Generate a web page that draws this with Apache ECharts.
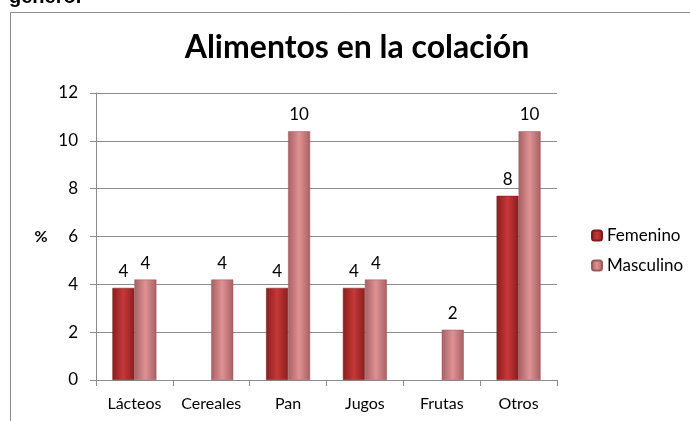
<!DOCTYPE html>
<html>
<head>
<meta charset="utf-8">
<script src="https://cdn.jsdelivr.net/npm/echarts@6/dist/echarts.min.js"></script>
<style>
  html, body { margin: 0; padding: 0; background: #fff; }
  #chart { width: 690px; height: 421px; }
</style>
</head>
<body>
<div id="chart"></div>
<script>
// datos
var categorias = ['Lácteos', 'Cereales', 'Pan', 'Jugos', 'Frutas', 'Otros'];
var femenino = [3.85, 0, 3.85, 3.85, 0, 7.7];
var masculino = [4.2, 4.2, 10.4, 4.2, 2.1, 10.4];
var ticksY = [0, 2, 4, 6, 8, 10, 12];

var fuente = 'Lato, "Open Sans", sans-serif';

function barra(c1, c2) {
    return new echarts.graphic.LinearGradient(0, 0, 1, 0, [
        { offset: 0, color: c1 },
        { offset: 0.5, color: c2 },
        { offset: 1, color: c1 }
    ]);
}

function etiqueta(p) {
    return p.value ? String(Math.round(p.value)) : '';
}

// los ceros no se dibujan
function sinCeros(arr) {
    return arr.map(function (v) { return v === 0 ? '-' : v; });
}

var myChart = echarts.init(document.getElementById('chart'));

var option = {
    backgroundColor: '#fff',
    animation: false,
    title: {
        text: 'Alimentos en la colación',
        left: 352,
        textAlign: 'center',
        top: 27,
        textStyle: { fontFamily: fuente, fontSize: 32, fontWeight: 'bold', color: '#000' }
    },
    graphic: [
        {
            type: 'rect',
            shape: { x: 10.5, y: 12.5, width: 700, height: 430 },
            style: { fill: 'none', stroke: '#8c8c8c', lineWidth: 1 },
            silent: true
        },
        {
            type: 'text',
            x: 9,
            y: 7,
            style: {
                text: 'género.',
                font: 'bold 20px "Liberation Sans", Arial, sans-serif',
                fill: '#000',
                verticalAlign: 'bottom'
            },
            silent: true
        }
    ],
    legend: {
        orient: 'vertical',
        left: 586,
        top: 222,
        itemWidth: 10,
        itemHeight: 10,
        itemGap: 13,
        textStyle: { fontFamily: fuente, fontSize: 17, color: '#000' },
        data: ['Femenino', 'Masculino']
    },
    grid: { left: 96, right: 133, top: 93, bottom: 41, containLabel: false },
    xAxis: {
        type: 'category',
        data: categorias,
        axisLine: { lineStyle: { color: '#8c8c8c' } },
        axisTick: { show: true, length: 6, lineStyle: { color: '#8c8c8c' } },
        axisLabel: { interval: 0, margin: 16, fontFamily: fuente, fontSize: 16, color: '#000' }
    },
    yAxis: {
        type: 'value',
        min: ticksY[0],
        max: ticksY[ticksY.length - 1],
        interval: 2,
        name: '%',
        nameLocation: 'middle',
        nameRotate: 0,
        nameGap: 55,
        nameTextStyle: { fontFamily: fuente, fontSize: 16, fontWeight: 'bold', color: '#000', align: 'center' },
        axisLine: { show: true, lineStyle: { color: '#8c8c8c' } },
        axisTick: { show: true, length: 6, lineStyle: { color: '#8c8c8c' } },
        splitLine: { lineStyle: { color: '#8c8c8c' } },
        axisLabel: { margin: 18, fontFamily: fuente, fontSize: 17, color: '#000' }
    },
    series: [
        {
            name: 'Femenino',
            type: 'bar',
            barWidth: 22,
            barGap: '0%',
            data: sinCeros(femenino),
            itemStyle: { color: barra('#8a1e1e', '#c63838'), borderColor: '#7a1c1c', borderWidth: 0.5 },
            label: {
                show: true, position: 'top', distance: 8, formatter: etiqueta,
                fontFamily: fuente, fontSize: 17, color: '#000'
            }
        },
        {
            name: 'Masculino',
            type: 'bar',
            barWidth: 22,
            data: sinCeros(masculino),
            itemStyle: { color: barra('#a86062', '#de9294'), borderColor: '#9a5a5c', borderWidth: 0.5 },
            label: {
                show: true, position: 'top', distance: 8, formatter: etiqueta,
                fontFamily: fuente, fontSize: 17, color: '#000'
            }
        }
    ]
};

myChart.setOption(option);
window.addEventListener('resize', function () {
    myChart.resize();
});
</script>
</body>
</html>
